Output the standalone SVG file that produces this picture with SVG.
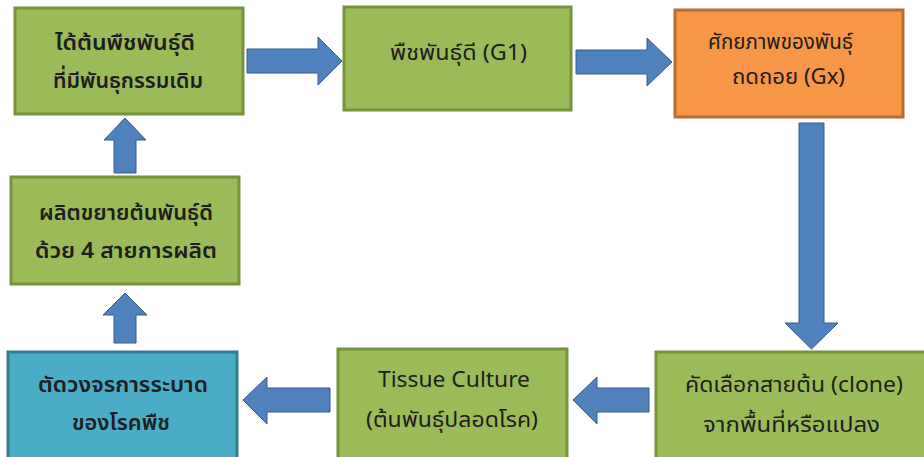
<svg xmlns="http://www.w3.org/2000/svg" width="924" height="457" viewBox="0 0 924 457">
<style>
.g{fill:#9BBB59;stroke:#76923C;stroke-width:3}
.o{fill:#F79646;stroke:#B66D31;stroke-width:3}
.b{fill:#4BACC6;stroke:#357D91;stroke-width:3}
.a{fill:#4F81BD;stroke:#385D8A;stroke-width:1}
text{font-family:"Noto Sans Thai","Noto Sans","DejaVu Sans",sans-serif;font-size:22px;fill:#1E1E1E}
.k{font-weight:600}
</style>
<rect width="924" height="457" fill="#FFFFFF"/>
<g id="connectors">
<path class="a" d="M247,49 H318 V37 L342,61 L318,85 V73 H247 Z"/>
<path class="a" d="M576,50 H647 V38 L672,62 L647,86 V74 H576 Z"/>
<path class="a" d="M799,123 H824 V323 H838 L811.5,349 L785,323 H799 Z"/>
<path class="a" d="M649,388 H597 V377 L573,400 L597,424 V412 H649 Z"/>
<path class="a" d="M330,388 H267 V377 L243,400 L267,424 V412 H330 Z"/>
<path class="a" d="M114,343 V315 H103 L125,293 L147,315 H136 V343 Z"/>
<path class="a" d="M114,173 V140 H104 L125,118 L146,140 H136 V173 Z"/>
</g>
<g id="n1">
<rect class="g" x="15" y="8" width="228" height="106"/>
<text class="k" x="55" y="50" textLength="140" lengthAdjust="spacingAndGlyphs">ได้ต้นพืชพันธุ์ดี</text>
<text class="k" x="53" y="88" textLength="150" lengthAdjust="spacingAndGlyphs">ที่มีพันธุกรรมเดิม</text>
</g>
<g id="n2">
<rect class="g" x="344" y="7" width="227" height="103"/>
<text x="390" y="60" textLength="137" lengthAdjust="spacingAndGlyphs">พืชพันธุ์ดี (G1)</text>
</g>
<g id="n3">
<rect class="o" x="675" y="10" width="228" height="107"/>
<text x="708" y="49" textLength="145" lengthAdjust="spacingAndGlyphs">ศักยภาพของพันธุ์</text>
<text x="732" y="84" textLength="113" lengthAdjust="spacingAndGlyphs">ถดถอย (Gx)</text>
</g>
<g id="n4">
<rect class="g" x="656" y="352" width="280" height="120"/>
<text x="685" y="392" textLength="218" lengthAdjust="spacingAndGlyphs">คัดเลือกสายต้น (clone)</text>
<text x="703" y="432" textLength="177" lengthAdjust="spacingAndGlyphs">จากพื้นที่หรือแปลง</text>
</g>
<g id="n5">
<rect class="g" x="338" y="349" width="229" height="120"/>
<text x="378" y="387" textLength="152" lengthAdjust="spacingAndGlyphs">Tissue Culture</text>
<text x="366" y="427" textLength="172" lengthAdjust="spacingAndGlyphs">(ต้นพันธุ์ปลอดโรค)</text>
</g>
<g id="n6">
<rect class="b" x="8" y="352" width="229" height="120"/>
<text class="k" x="38" y="392" textLength="170" lengthAdjust="spacingAndGlyphs">ตัดวงจรการระบาด</text>
<text class="k" x="72" y="430" textLength="98" lengthAdjust="spacingAndGlyphs">ของโรคพืช</text>
</g>
<g id="n7">
<rect class="g" x="11" y="177" width="228" height="107"/>
<text class="k" x="39" y="220" textLength="174" lengthAdjust="spacingAndGlyphs">ผลิตขยายต้นพันธุ์ดี</text>
<text class="k" x="35" y="258" textLength="182" lengthAdjust="spacingAndGlyphs">ด้วย 4 สายการผลิต</text>
</g>
</svg>
